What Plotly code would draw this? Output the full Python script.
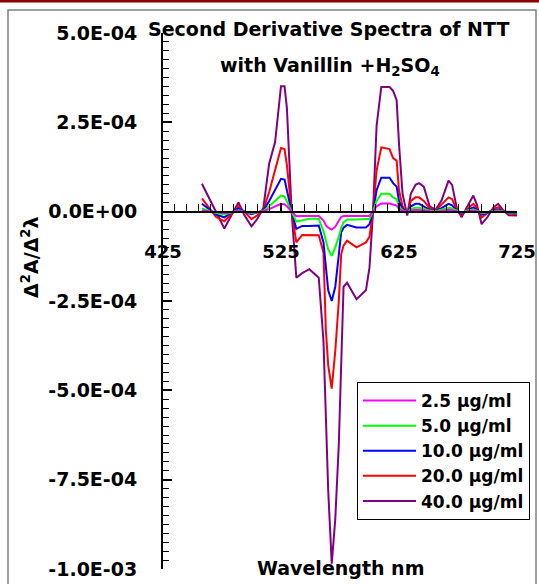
import plotly.graph_objects as go

# Wavelength grid (nm)
W = [458, 464, 470, 477, 483, 489, 494, 500, 505, 510,
     515, 520, 525, 528, 530, 534, 538, 543, 549, 557,
     561, 563, 565, 568, 571, 574, 576, 578, 581, 589,
     597, 600, 603, 606, 610, 617, 620, 623, 625, 628,
     632, 635, 639, 642, 646, 651, 656, 661, 667, 670,
     674, 678, 683, 688, 691, 695, 700, 705, 709, 713,
     718, 725]

# Second-derivative values, in units of 1E-04
S40 = [0.78, 0.38, -0.05, -0.47, -0.10, 0.26, -0.10, -0.41, -0.20, 0.10,
       1.35, 1.95, 3.51, 3.51, 2.90, 0.00, -1.85, -1.72, -1.61, -1.85,
       -3.62, -5.50, -7.80, -9.85, -8.60, -6.50, -4.20, -2.10, -1.99, -2.45,
       -2.20, -1.56, 0.00, 2.40, 3.49, 3.49, 3.38, 3.12, 1.90, 0.50,
       -0.11, 0.50, 0.75, 0.80, 0.70, 0.15, 0.05, 0.31, 0.87, 0.75,
       0.10, -0.16, 0.15, 0.45, 0.20, -0.35, -0.15, 0.12, 0.22, 0.05,
       -0.10, -0.11]
S20 = [0.37, 0.12, -0.15, -0.27, -0.05, 0.15, 0.00, -0.21, -0.10, 0.05,
       0.55, 1.20, 1.78, 1.75, 1.30, 0.00, -0.86, -0.65, -0.65, -0.66,
       -1.14, -3.30, -4.30, -4.95, -3.90, -2.50, -1.20, -0.95, -0.81, -1.00,
       -0.86, -0.70, 0.00, 1.15, 1.80, 1.75, 1.50, 1.43, 0.60, 0.15,
       -0.05, 0.30, 0.40, 0.40, 0.30, 0.10, 0.03, 0.20, 0.40, 0.35,
       0.05, -0.10, 0.08, 0.22, 0.10, -0.16, -0.05, 0.08, 0.12, 0.05,
       -0.05, -0.07]
S10 = [0.22, 0.08, -0.08, -0.16, -0.02, 0.09, 0.00, -0.07, -0.03, 0.03,
       0.30, 0.60, 0.92, 0.90, 0.60, 0.00, -0.48, -0.40, -0.40, -0.39,
       -0.86, -1.60, -2.20, -2.50, -2.10, -1.20, -0.58, -0.45, -0.37, -0.44,
       -0.44, -0.35, 0.00, 0.60, 0.95, 0.95, 0.80, 0.70, 0.30, 0.08,
       -0.03, 0.15, 0.22, 0.22, 0.15, 0.05, 0.02, 0.10, 0.22, 0.18,
       0.03, -0.06, 0.04, 0.12, 0.05, -0.08, -0.03, 0.04, 0.06, 0.02,
       -0.03, -0.04]
S5 = [0.09, 0.03, -0.04, -0.08, -0.01, 0.04, 0.00, -0.04, -0.02, 0.02,
      0.15, 0.30, 0.45, 0.43, 0.30, 0.00, -0.28, -0.24, -0.20, -0.20,
      -0.55, -0.80, -1.05, -1.24, -1.00, -0.70, -0.45, -0.30, -0.22, -0.22,
      -0.22, -0.20, 0.00, 0.30, 0.50, 0.50, 0.40, 0.35, 0.15, 0.04,
      -0.02, 0.08, 0.11, 0.11, 0.08, 0.03, 0.01, 0.05, 0.11, 0.09,
      0.02, -0.03, 0.03, 0.06, 0.03, -0.04, -0.02, 0.02, 0.03, 0.01,
      -0.02, -0.02]
S25 = [0.03, 0.01, -0.02, -0.04, -0.01, 0.02, 0.00, -0.02, -0.01, 0.01,
       0.07, 0.14, 0.22, 0.21, 0.15, 0.00, -0.13, -0.12, -0.12, -0.12,
       -0.25, -0.38, -0.45, -0.50, -0.42, -0.25, -0.15, -0.12, -0.12, -0.12,
       -0.12, -0.12, 0.00, 0.15, 0.23, 0.23, 0.20, 0.17, 0.08, 0.02,
       -0.01, 0.04, 0.05, 0.05, 0.04, 0.01, 0.00, 0.02, 0.05, 0.04,
       0.01, -0.02, 0.01, 0.03, 0.01, -0.02, -0.01, 0.01, 0.01, 0.00,
       -0.01, -0.01]

SERIES_NAMES = ["40.0 µg/ml", "20.0 µg/ml", "10.0 µg/ml", "5.0 µg/ml", "2.5 µg/ml"]
SERIES_COLORS = ["#800080", "#FF0000", "#0000FF", "#00FF00", "#FF00FF"]
SERIES = [S40, S20, S10, S5, S25]

X_TICKS = [425, 525, 625, 725]
X_TICK_LABELS = ["425", "525", "625", "725"]
Y_TICKS = [-10, -7.5, -5, -2.5, 0, 2.5, 5]
Y_TICK_LABELS = ["-1.0E-03", "-7.5E-04", "-5.0E-04", "-2.5E-04", "0.0E+00", "2.5E-04", "5.0E-04"]

FONT = "DejaVu Sans"
W_PX, H_PX = 539, 584
L, R, T, B = 163, 517, 33, 569


def px(x):
    return (x - L) / (R - L)


def py(y):
    return (B - y) / (B - T)


fig = go.Figure()
for name, color, vals in zip(SERIES_NAMES, SERIES_COLORS, SERIES):
    fig.add_trace(go.Scatter(x=W, y=vals, mode="lines", name=name,
                             line=dict(color=color, width=2)))

bold = dict(family=FONT, size=19, color="black", weight="bold")

fig.update_layout(
    width=W_PX, height=H_PX,
    margin=dict(l=L, r=W_PX - R, t=T, b=H_PX - B, pad=0, autoexpand=False),
    paper_bgcolor="white", plot_bgcolor="rgba(0,0,0,0)",
    showlegend=True,
    legend=dict(x=px(357), y=py(382), xanchor="left", yanchor="top",
                traceorder="reversed", bordercolor="black", borderwidth=1,
                bgcolor="white", font=dict(family=FONT, size=17, color="black", weight="bold"),
                itemwidth=53, tracegroupgap=0),
    xaxis=dict(range=[425, 725], anchor="free", position=2 / 3, automargin=False,
               showline=True, linecolor="black", linewidth=1.5,
               ticks="inside", ticklen=8, tickwidth=1.5, tickcolor="black",
               tickmode="array", tickvals=X_TICKS, ticktext=X_TICK_LABELS,
               tickfont=dict(family=FONT, size=18, color="black", weight="bold"),
               ticklabelstandoff=24,
               showgrid=False, zeroline=False,
               minor=dict(ticks="inside", ticklen=7, tickwidth=1.3, tickcolor="black",
                          tickmode="linear", tick0=425, dtick=10, showgrid=False)),
    yaxis=dict(range=[-10, 5], automargin=False, showline=True, linecolor="black", linewidth=2,
               ticks="inside", ticklen=9, tickwidth=1.5, tickcolor="black",
               tickmode="array", tickvals=Y_TICKS, ticktext=Y_TICK_LABELS,
               tickfont=bold, ticklabelstandoff=20,
               showgrid=False, zeroline=False,
               minor=dict(ticks="inside", ticklen=6, tickwidth=1.3, tickcolor="black",
                          tickmode="linear", tick0=0, dtick=0.25, showgrid=False)),
)

fig.add_annotation(text="Second Derivative Spectra of NTT", x=px(328), y=py(29),
                   xref="paper", yref="paper", showarrow=False,
                   xanchor="center", yanchor="middle", font=bold)
fig.add_annotation(text="with Vanillin +H<sub>2</sub>SO<sub>4</sub>", x=px(330), y=py(66),
                   xref="paper", yref="paper", showarrow=False,
                   xanchor="center", yanchor="middle", font=bold)
fig.add_annotation(text="Δ<sup>2</sup>A/Δ<sup>2</sup>λ", x=px(30), y=py(257),
                   xref="paper", yref="paper", showarrow=False, textangle=-90,
                   xanchor="center", yanchor="middle", font=bold)
fig.add_annotation(text="Wavelength nm", x=px(340), y=py(568),
                   xref="paper", yref="paper", showarrow=False,
                   xanchor="center", yanchor="middle", font=bold)

# outer frame and top rule
fig.add_shape(type="rect", xref="paper", yref="paper",
              x0=px(8), x1=px(536), y0=py(600), y1=py(10),
              line=dict(color="#7f7f7f", width=1.5), layer="above")
fig.add_shape(type="line", xref="paper", yref="paper",
              x0=px(-5), x1=px(545), y0=py(1), y1=py(1),
              line=dict(color="#8B0000", width=3), layer="above")

fig.write_html("out.html")
